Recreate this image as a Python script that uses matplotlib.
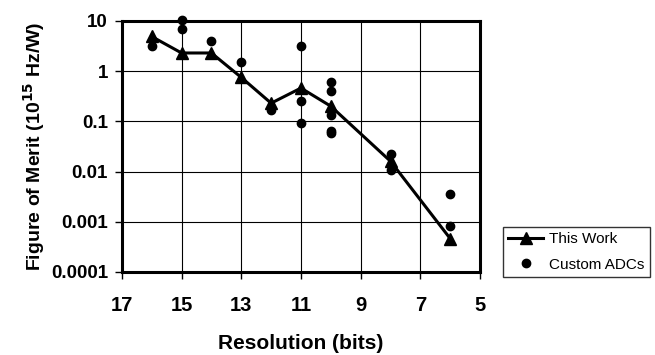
import numpy as np
import matplotlib
matplotlib.use("Agg")
import matplotlib.pyplot as plt

plt.rcParams['font.family'] = ['Liberation Sans', 'DejaVu Sans']

# This Work
work_bits = [16, 15, 14, 13, 12, 11, 10, 8, 6]
work_fom = [4.9, 2.3, 2.3, 0.75, 0.23, 0.46, 0.2, 0.016, 0.00046]

# Custom ADCs
adc_bits = [16, 15, 15, 14, 13, 12, 11, 11, 11, 10, 10, 10, 10, 10, 8, 8, 6, 6]
adc_fom = [3.2, 10.5, 6.8, 4.0, 1.5, 0.17, 3.2, 0.25, 0.093,
           0.62, 0.41, 0.135, 0.065, 0.059, 0.022, 0.0105, 0.0036, 0.00084]

yticks = [0.0001, 0.001, 0.01, 0.1, 1, 10]
yticklabels = ["0.0001", "0.001", "0.01", "0.1", "1", "10"]
xticks = [17, 15, 13, 11, 9, 7, 5]

fig = plt.figure(figsize=(6.55, 3.55), dpi=100)
ax = fig.add_axes([0.186, 0.234, 0.547, 0.707])

ax.plot(work_bits, work_fom, color='black', lw=2.2, marker='^', ms=8,
        label='This Work', zorder=3)
ax.plot(adc_bits, adc_fom, ls='none', marker='o', color='black', ms=6,
        label='Custom ADCs', zorder=3, clip_on=False)

ax.set_yscale('log')
ax.set_xlim(17, 5)
ax.set_ylim(0.0001, 10)
ax.set_yticks(yticks)
ax.set_yticklabels(yticklabels)
ax.yaxis.set_minor_locator(matplotlib.ticker.NullLocator())
ax.set_xticks(xticks)
ax.grid(True, color='black', lw=0.8)
for s in ax.spines.values():
    s.set_linewidth(2.2)
ax.tick_params(direction='out', length=5, width=1)
ax.tick_params(axis='x', labelsize=14.5, pad=12)
ax.tick_params(axis='y', labelsize=13.5, pad=5)
for lab in ax.get_xticklabels() + ax.get_yticklabels():
    lab.set_fontweight('bold')

ax.set_xlabel("Resolution (bits)", fontsize=15, fontweight='bold', labelpad=14)
ax.set_ylabel(r"Figure of Merit (10$^{\mathbf{15}}$ Hz/W)", fontsize=14,
              fontweight='bold', labelpad=3)

leg = fig.legend(loc='upper left', bbox_to_anchor=(503 / 655, 1 - 227 / 355),
                 fontsize=11, frameon=True, fancybox=False, edgecolor='black',
                 handlelength=2.3, handletextpad=0.35, borderpad=0.35,
                 labelspacing=0.75, borderaxespad=0)
leg.get_frame().set_linewidth(1)

fig.savefig("out.png", dpi=100)
